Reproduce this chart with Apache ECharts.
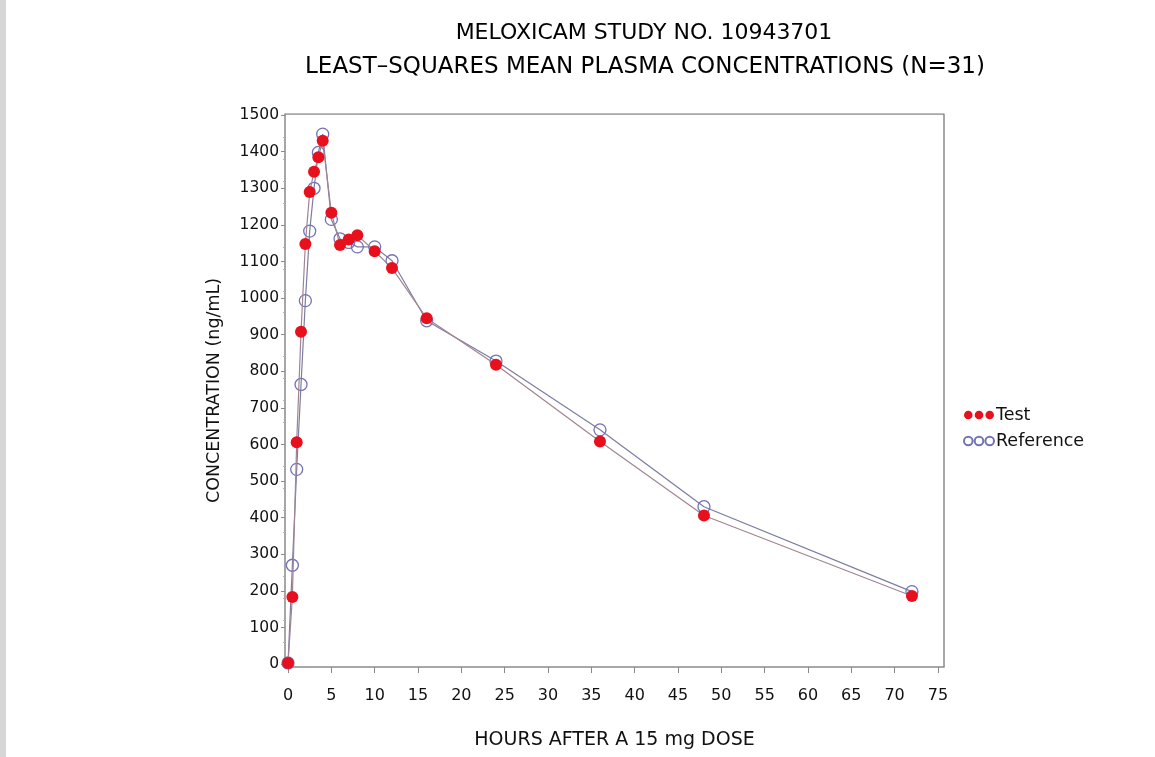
<!DOCTYPE html>
<html>
<head>
<meta charset="utf-8">
<script src="https://cdn.jsdelivr.net/npm/echarts@6/dist/echarts.min.js"></script>
<style>
  html, body { margin: 0; padding: 0; background: #fff; }
  body { width: 1155px; height: 757px; overflow: hidden; position: relative; }
  .edge { position: absolute; left: 0; top: 0; width: 6px; height: 757px; background: #d6d6d6; }
  #chart { position: absolute; left: 0; top: 0; width: 1155px; height: 757px; }
</style>
</head>
<body>
<div class="edge"></div>
<div id="chart"></div>
<script>
// sampling times (hours after dose)
const hours = [0, 0.5, 1, 1.5, 2, 2.5, 3, 3.5, 4, 5, 6, 7, 8, 10, 12, 16, 24, 36, 48, 72]
// least-squares mean plasma concentrations (ng/mL)
const testConc = [3, 183, 606, 908, 1148, 1290, 1345, 1385, 1430, 1233, 1145, 1160, 1172, 1128, 1082, 945, 818, 608, 406, 186]
const refConc = [3, 270, 532, 764, 993, 1183, 1300, 1398, 1448, 1215, 1162, 1152, 1140, 1140, 1102, 938, 828, 640, 430, 198]
const xTicks = [0, 5, 10, 15, 20, 25, 30, 35, 40, 45, 50, 55, 60, 65, 70, 75]
const yTicks = [0, 100, 200, 300, 400, 500, 600, 700, 800, 900, 1000, 1100, 1200, 1300, 1400, 1500]

const font = 'DejaVu Sans, Arial, sans-serif'
const threeDots = 'path://M1,5a4,4 0 1,0 8,0a4,4 0 1,0 -8,0M11,5a4,4 0 1,0 8,0a4,4 0 1,0 -8,0M21,5a4,4 0 1,0 8,0a4,4 0 1,0 -8,0'

const chart = echarts.init(document.getElementById('chart'), null, { renderer: 'canvas' })

const option = {
  backgroundColor: 'transparent',
  animation: false,
  graphic: [
    {
      type: 'text', x: 644, y: 33,
      style: { text: 'MELOXICAM STUDY NO. 10943701', font: '22px ' + font, fill: '#000', align: 'center', verticalAlign: 'middle' }
    },
    {
      type: 'text', x: 645, y: 67,
      style: { text: 'LEAST\u2013SQUARES MEAN PLASMA CONCENTRATIONS (N=31)', font: '23px ' + font, fill: '#000', align: 'center', verticalAlign: 'middle' }
    }
  ],
  legend: {
    orient: 'vertical',
    left: 958,
    top: 401,
    itemWidth: 30,
    itemHeight: 10,
    itemGap: 8,
    icon: threeDots,
    textStyle: { fontFamily: font, fontSize: 17.5, color: '#111', padding: [0, 0, 0, -3] },
    data: ['Test', 'Reference']
  },
  grid: { left: 285, right: 211, top: 114, bottom: 90, show: false },
  xAxis: {
    type: 'value',
    min: -0.35,
    max: 75.7,
    name: 'HOURS AFTER A 15 mg DOSE',
    nameLocation: 'middle',
    nameGap: 64,
    nameTextStyle: { fontFamily: font, fontSize: 19, color: '#111' },
    axisLine: { show: true, onZero: false, lineStyle: { color: '#8a8a8a', width: 1.5 } },
    axisTick: { show: true, customValues: xTicks, length: 6, lineStyle: { color: '#8a8a8a' } },
    axisLabel: { customValues: xTicks, margin: 21, fontFamily: font, fontSize: 16, color: '#111' },
    splitLine: { show: false }
  },
  yAxis: {
    type: 'value',
    min: -8,
    max: 1503,
    name: 'CONCENTRATION (ng/mL)',
    nameLocation: 'middle',
    nameRotate: 90,
    nameGap: 62,
    nameTextStyle: { fontFamily: font, fontSize: 17.5, color: '#111' },
    axisLine: { show: true, onZero: false, lineStyle: { color: '#8a8a8a', width: 1.5 } },
    axisTick: { show: true, customValues: yTicks, length: 4, lineStyle: { color: '#8a8a8a' } },
    minorTick: { show: true, splitNumber: 5, length: 2, lineStyle: { color: '#b0b0b0' } },
    axisLabel: { customValues: yTicks, margin: 6, fontFamily: font, fontSize: 15.5, color: '#111', formatter: v => String(v) },
    splitLine: { show: false }
  },
  series: [
    {
      name: 'Reference',
      type: 'line',
      data: hours.map((h, i) => [h, refConc[i]]),
      symbol: 'circle',
      symbolSize: 12,
      itemStyle: { color: 'rgba(255,255,255,0)', borderColor: '#7272b6', borderWidth: 1.3 },
      lineStyle: { color: '#7c7ca4', width: 1.2 },
      z: 2
    },
    {
      name: 'Test',
      type: 'line',
      data: hours.map((h, i) => [h, testConc[i]]),
      symbol: 'circle',
      symbolSize: 12,
      itemStyle: { color: '#e8101c', borderColor: '#e8101c', borderWidth: 0 },
      lineStyle: { color: '#a08494', width: 1.2 },
      z: 3
    },
    {
      // plot frame (top and right edges)
      type: 'line',
      data: [[-0.35, 1503], [75.7, 1503], [75.7, -8]],
      symbol: 'none',
      silent: true,
      lineStyle: { color: '#8a8a8a', width: 1.5 },
      z: 1
    }
  ]
}

chart.setOption(option)
</script>
</body>
</html>
